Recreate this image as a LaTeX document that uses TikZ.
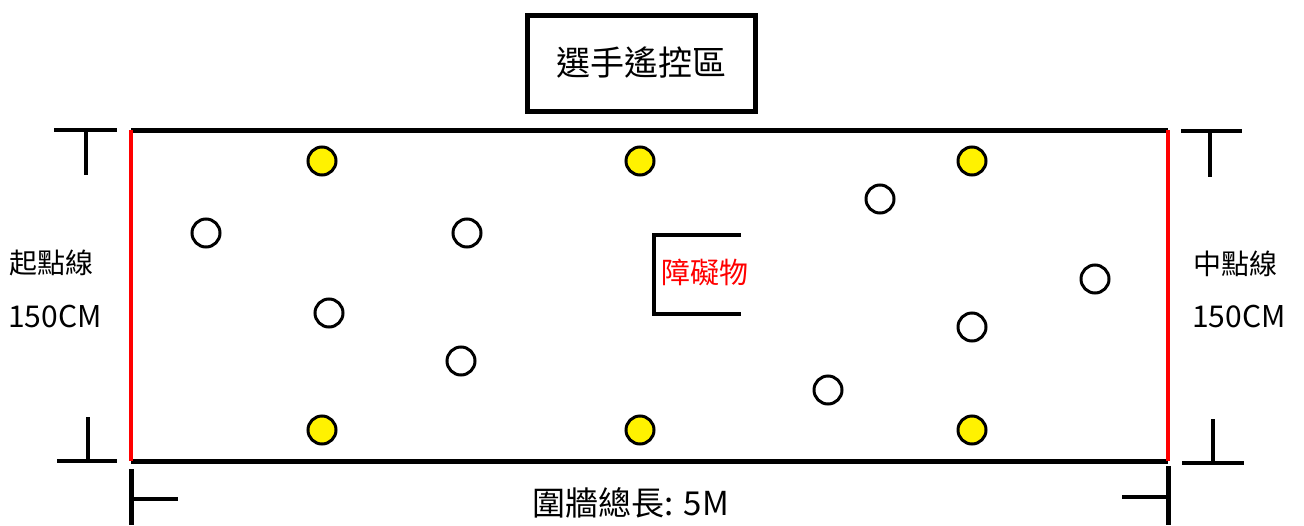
\documentclass[tikz,border=0pt]{standalone}
\usepackage{fontspec}
\setmainfont{Noto Sans CJK TC}
\begin{document}
\begin{tikzpicture}[x=1pt,y=-1pt,
  fieldline/.style={line width=5pt},
  redline/.style={line width=4.5pt,red},
  tickline/.style={line width=3.5pt},
  post/.style={circle,draw,line width=3pt,minimum size=28pt,inner sep=0pt},
  yellowpost/.style={post,fill=yellow},
  whitepost/.style={post,fill=white},
  lbl/.style={inner sep=0pt,font=\fontsize{28}{32}\selectfont}]
\useasboundingbox (0,0) rectangle (1304,525);
% control box
\node[draw,line width=5pt,minimum width=228pt,minimum height=96pt,inner sep=0pt,font=\fontsize{34}{38}\selectfont] (ctrl) at (641,63) {選手遙控區};
% field corners
\coordinate (tl) at (131,130);
\coordinate (tr) at (1168,130);
\coordinate (bl) at (131,461);
\coordinate (br) at (1168,461);
\draw[fieldline] (tl) -- (tr);
\draw[fieldline] (bl) -- (br);
\draw[redline] (tl) -- (bl);
\draw[redline] (tr) -- (br);
% side markers
\coordinate (lt1) at (54,130); \coordinate (lt2) at (117,130);
\coordinate (lt3) at (86,130); \coordinate (lt4) at (86,175);
\draw[tickline] (lt1) -- (lt2); \draw[tickline] (lt3) -- (lt4);
\coordinate (lb1) at (57,461); \coordinate (lb2) at (117,461);
\coordinate (lb3) at (88,461); \coordinate (lb4) at (88,417);
\draw[tickline] (lb1) -- (lb2); \draw[tickline] (lb3) -- (lb4);
\coordinate (rt1) at (1181,131); \coordinate (rt2) at (1242,131);
\coordinate (rt3) at (1210,131); \coordinate (rt4) at (1210,177);
\draw[tickline] (rt1) -- (rt2); \draw[tickline] (rt3) -- (rt4);
\coordinate (rb1) at (1182,463); \coordinate (rb2) at (1244,463);
\coordinate (rb3) at (1213,463); \coordinate (rb4) at (1213,419);
\draw[tickline] (rb1) -- (rb2); \draw[tickline] (rb3) -- (rb4);
% bottom dimension
\coordinate (dl1) at (131,469); \coordinate (dl2) at (131,525);
\coordinate (dl3) at (131,499); \coordinate (dl4) at (178,499);
\draw[fieldline] (dl1) -- (dl2); \draw[tickline] (dl3) -- (dl4);
\coordinate (dr1) at (1168,466); \coordinate (dr2) at (1168,525);
\coordinate (dr3) at (1168,497); \coordinate (dr4) at (1122,497);
\draw[fieldline] (dr1) -- (dr2); \draw[tickline] (dr3) -- (dr4);
\node[lbl,font=\fontsize{33}{36}\selectfont] (len) at (631,503) {圍牆總長: 5M};
% side labels
\node[lbl,anchor=west] (start) at (9,263) {起點線};
\node[lbl,anchor=west,font=\fontsize{30}{34}\selectfont] (startw) at (8,316) {150CM};
\node[lbl,anchor=west] (mid) at (1193,264) {中點線};
\node[lbl,anchor=west,font=\fontsize{30}{34}\selectfont] (midw) at (1192,316) {150CM};
% obstacle
\coordinate (o1) at (741,235); \coordinate (o2) at (654,235);
\coordinate (o3) at (654,314); \coordinate (o4) at (741,314);
\draw[line width=4pt] (o1) -- (o2) -- (o3) -- (o4);
\node[lbl,text=red,font=\fontsize{29}{32}\selectfont] (obs) at (705,272) {障礙物};
% posts
\node[yellowpost] (y1) at (322,161) {};
\node[yellowpost] (y2) at (640,161) {};
\node[yellowpost] (y3) at (972,161) {};
\node[yellowpost] (y4) at (322,430) {};
\node[yellowpost] (y5) at (640,430) {};
\node[yellowpost] (y6) at (972,430) {};
\node[whitepost] (w1) at (206,233) {};
\node[whitepost] (w2) at (467,233) {};
\node[whitepost] (w3) at (880,199) {};
\node[whitepost] (w4) at (1095,279) {};
\node[whitepost] (w5) at (329,313) {};
\node[whitepost] (w6) at (972,327) {};
\node[whitepost] (w7) at (461,361) {};
\node[whitepost] (w8) at (828,390) {};
\end{tikzpicture}
\end{document}
